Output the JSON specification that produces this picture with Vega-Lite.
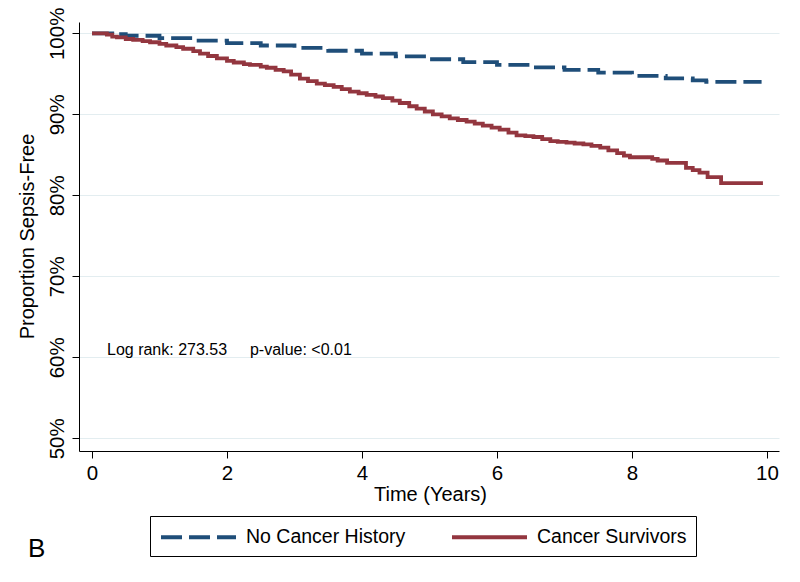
{
  "$schema": "https://vega.github.io/schema/vega-lite/v6.json",
  "width": 700,
  "height": 429,
  "autosize": {"type": "none"},
  "padding": {"left": 79, "top": 22, "right": 21, "bottom": 131},
  "background": "white",
  "config": {
    "view": {"stroke": null},
    "font": "Liberation Sans",
    "axis": {
      "domainColor": "black",
      "domainWidth": 1,
      "tickColor": "black",
      "tickWidth": 1,
      "tickSize": 7,
      "labelColor": "black",
      "titleColor": "black",
      "labelFont": "Liberation Sans",
      "titleFont": "Liberation Sans",
      "labelFontSize": 20.5,
      "titleFontSize": 20,
      "titleFontWeight": "normal",
      "labelFlush": false,
      "labelOverlap": false
    },
    "legend": {
      "symbolType": "M-1,0H6.5",
      "symbolSize": 400,
      "symbolStrokeWidth": 3.8,
      "labelFont": "Liberation Sans",
      "labelFontSize": 19.5,
      "labelColor": "black",
      "labelOffset": 63,
      "labelLimit": 400,
      "columnPadding": 38,
      "gridAlign": "all",
      "padding": 9,
      "strokeColor": "black",
      "strokeWidth": 1,
      "fillColor": "white"
    }
  },
  "datasets": {
    "km": [
      {"group": "No Cancer History", "years": 0, "survival": 1.0},
      {"group": "No Cancer History", "years": 0.3, "survival": 0.999},
      {"group": "No Cancer History", "years": 0.5, "survival": 0.997},
      {"group": "No Cancer History", "years": 1.0, "survival": 0.994},
      {"group": "No Cancer History", "years": 1.5, "survival": 0.991},
      {"group": "No Cancer History", "years": 2.0, "survival": 0.988},
      {"group": "No Cancer History", "years": 2.5, "survival": 0.985},
      {"group": "No Cancer History", "years": 3.0, "survival": 0.982},
      {"group": "No Cancer History", "years": 3.5, "survival": 0.9785},
      {"group": "No Cancer History", "years": 4.0, "survival": 0.975},
      {"group": "No Cancer History", "years": 4.5, "survival": 0.9715},
      {"group": "No Cancer History", "years": 5.0, "survival": 0.968},
      {"group": "No Cancer History", "years": 5.5, "survival": 0.9645},
      {"group": "No Cancer History", "years": 6.0, "survival": 0.961},
      {"group": "No Cancer History", "years": 6.5, "survival": 0.958},
      {"group": "No Cancer History", "years": 7.0, "survival": 0.955},
      {"group": "No Cancer History", "years": 7.5, "survival": 0.9515},
      {"group": "No Cancer History", "years": 8.0, "survival": 0.9475},
      {"group": "No Cancer History", "years": 8.5, "survival": 0.9445},
      {"group": "No Cancer History", "years": 8.9, "survival": 0.942},
      {"group": "No Cancer History", "years": 9.1, "survival": 0.94},
      {"group": "No Cancer History", "years": 9.92, "survival": 0.94},
      {"group": "Cancer Survivors", "years": 0, "survival": 1.0},
      {"group": "Cancer Survivors", "years": 0.22, "survival": 0.9985},
      {"group": "Cancer Survivors", "years": 0.3, "survival": 0.996},
      {"group": "Cancer Survivors", "years": 0.37, "survival": 0.995},
      {"group": "Cancer Survivors", "years": 0.5, "survival": 0.993},
      {"group": "Cancer Survivors", "years": 0.61, "survival": 0.992},
      {"group": "Cancer Survivors", "years": 0.75, "survival": 0.9905},
      {"group": "Cancer Survivors", "years": 0.86, "survival": 0.989},
      {"group": "Cancer Survivors", "years": 1.0, "survival": 0.987},
      {"group": "Cancer Survivors", "years": 1.1, "survival": 0.985},
      {"group": "Cancer Survivors", "years": 1.25, "survival": 0.983},
      {"group": "Cancer Survivors", "years": 1.35, "survival": 0.981},
      {"group": "Cancer Survivors", "years": 1.5, "survival": 0.978},
      {"group": "Cancer Survivors", "years": 1.6, "survival": 0.975},
      {"group": "Cancer Survivors", "years": 1.72, "survival": 0.972},
      {"group": "Cancer Survivors", "years": 1.85, "survival": 0.969},
      {"group": "Cancer Survivors", "years": 2.0, "survival": 0.966},
      {"group": "Cancer Survivors", "years": 2.1, "survival": 0.964},
      {"group": "Cancer Survivors", "years": 2.25, "survival": 0.962},
      {"group": "Cancer Survivors", "years": 2.34, "survival": 0.961},
      {"group": "Cancer Survivors", "years": 2.5, "survival": 0.959},
      {"group": "Cancer Survivors", "years": 2.59, "survival": 0.9575},
      {"group": "Cancer Survivors", "years": 2.72, "survival": 0.955},
      {"group": "Cancer Survivors", "years": 2.84, "survival": 0.953},
      {"group": "Cancer Survivors", "years": 2.95, "survival": 0.949},
      {"group": "Cancer Survivors", "years": 3.08, "survival": 0.944},
      {"group": "Cancer Survivors", "years": 3.2, "survival": 0.941},
      {"group": "Cancer Survivors", "years": 3.33, "survival": 0.938},
      {"group": "Cancer Survivors", "years": 3.45, "survival": 0.936},
      {"group": "Cancer Survivors", "years": 3.58, "survival": 0.934},
      {"group": "Cancer Survivors", "years": 3.7, "survival": 0.931},
      {"group": "Cancer Survivors", "years": 3.82, "survival": 0.928},
      {"group": "Cancer Survivors", "years": 3.95, "survival": 0.926},
      {"group": "Cancer Survivors", "years": 4.07, "survival": 0.924},
      {"group": "Cancer Survivors", "years": 4.2, "survival": 0.922},
      {"group": "Cancer Survivors", "years": 4.31, "survival": 0.92},
      {"group": "Cancer Survivors", "years": 4.45, "survival": 0.917},
      {"group": "Cancer Survivors", "years": 4.56, "survival": 0.914},
      {"group": "Cancer Survivors", "years": 4.7, "survival": 0.91},
      {"group": "Cancer Survivors", "years": 4.81, "survival": 0.907},
      {"group": "Cancer Survivors", "years": 4.93, "survival": 0.9035},
      {"group": "Cancer Survivors", "years": 5.05, "survival": 0.9},
      {"group": "Cancer Survivors", "years": 5.18, "survival": 0.8975},
      {"group": "Cancer Survivors", "years": 5.3, "survival": 0.895},
      {"group": "Cancer Survivors", "years": 5.42, "survival": 0.893},
      {"group": "Cancer Survivors", "years": 5.55, "survival": 0.891},
      {"group": "Cancer Survivors", "years": 5.67, "survival": 0.8885},
      {"group": "Cancer Survivors", "years": 5.79, "survival": 0.886},
      {"group": "Cancer Survivors", "years": 5.92, "survival": 0.8835},
      {"group": "Cancer Survivors", "years": 6.04, "survival": 0.881},
      {"group": "Cancer Survivors", "years": 6.17, "survival": 0.8775},
      {"group": "Cancer Survivors", "years": 6.29, "survival": 0.874},
      {"group": "Cancer Survivors", "years": 6.42, "survival": 0.873},
      {"group": "Cancer Survivors", "years": 6.54, "survival": 0.872},
      {"group": "Cancer Survivors", "years": 6.67, "survival": 0.8695},
      {"group": "Cancer Survivors", "years": 6.79, "survival": 0.867},
      {"group": "Cancer Survivors", "years": 6.9, "survival": 0.866},
      {"group": "Cancer Survivors", "years": 7.03, "survival": 0.865},
      {"group": "Cancer Survivors", "years": 7.15, "survival": 0.864},
      {"group": "Cancer Survivors", "years": 7.28, "survival": 0.863},
      {"group": "Cancer Survivors", "years": 7.4, "survival": 0.861},
      {"group": "Cancer Survivors", "years": 7.53, "survival": 0.859},
      {"group": "Cancer Survivors", "years": 7.65, "survival": 0.8555},
      {"group": "Cancer Survivors", "years": 7.78, "survival": 0.852},
      {"group": "Cancer Survivors", "years": 7.88, "survival": 0.849},
      {"group": "Cancer Survivors", "years": 7.97, "survival": 0.847},
      {"group": "Cancer Survivors", "years": 8.3, "survival": 0.845},
      {"group": "Cancer Survivors", "years": 8.38, "survival": 0.843},
      {"group": "Cancer Survivors", "years": 8.52, "survival": 0.84},
      {"group": "Cancer Survivors", "years": 8.8, "survival": 0.834},
      {"group": "Cancer Survivors", "years": 8.9, "survival": 0.831},
      {"group": "Cancer Survivors", "years": 9.0, "survival": 0.828},
      {"group": "Cancer Survivors", "years": 9.12, "survival": 0.8225},
      {"group": "Cancer Survivors", "years": 9.32, "survival": 0.815},
      {"group": "Cancer Survivors", "years": 9.94, "survival": 0.815}
    ]
  },
  "layer": [
    {
      "data": {"name": "km"},
      "mark": {"type": "line", "interpolate": "step-after", "strokeWidth": 3.8, "strokeCap": "butt"},
      "encoding": {
        "x": {
          "field": "years",
          "type": "quantitative",
          "scale": {"domain": [-0.1926, 10.178], "nice": false, "zero": false},
          "axis": {
            "values": [0, 2, 4, 6, 8, 10],
            "format": "d",
            "title": "Time (Years)",
            "grid": false,
            "labelBaseline": "alphabetic",
            "labelPadding": 21,
            "titleBaseline": "alphabetic",
            "titleAlign": "center",
            "titleX": 351,
            "titleY": 49
          }
        },
        "y": {
          "field": "survival",
          "type": "quantitative",
          "scale": {"domain": [0.4843, 1.014], "nice": false, "zero": false},
          "axis": {
            "values": [0.5, 0.6, 0.7, 0.8, 0.9, 1.0],
            "format": ".0%",
            "title": "Proportion Sepsis-Free",
            "grid": true,
            "gridColor": "#e3edf0",
            "gridWidth": 1,
            "labelAngle": 270,
            "labelAlign": "center",
            "labelBaseline": "alphabetic",
            "labelPadding": 9,
            "titleAngle": 270,
            "titleAlign": "center",
            "titleBaseline": "alphabetic",
            "titleX": -46,
            "titleY": 214
          }
        },
        "color": {
          "field": "group",
          "type": "nominal",
          "scale": {"domain": ["No Cancer History", "Cancer Survivors"], "range": ["#1f4e79", "#93363f"]},
          "legend": {"title": null, "orient": "none", "legendX": 71, "legendY": 494, "direction": "horizontal"}
        },
        "strokeDash": {
          "field": "group",
          "type": "nominal",
          "scale": {"domain": ["No Cancer History", "Cancer Survivors"], "range": [[21, 7], [1, 0]]},
          "legend": {"title": null, "orient": "none", "legendX": 71, "legendY": 494, "direction": "horizontal"}
        }
      }
    },
    {
      "data": {"values": [{"note": "Log rank: 273.53"}]},
      "mark": {"type": "text", "font": "Liberation Sans", "fontSize": 16, "align": "left", "baseline": "alphabetic", "color": "black"},
      "encoding": {"text": {"field": "note"}, "x": {"datum": 0.222}, "y": {"datum": 0.6028}}
    },
    {
      "data": {"values": [{"note": "p-value: <0.01"}]},
      "mark": {"type": "text", "font": "Liberation Sans", "fontSize": 16, "align": "left", "baseline": "alphabetic", "color": "black"},
      "encoding": {"text": {"field": "note"}, "x": {"datum": 2.34}, "y": {"datum": 0.6028}}
    },
    {
      "data": {"values": [{"note": "B"}]},
      "mark": {"type": "text", "font": "Liberation Sans", "fontSize": 26, "align": "left", "baseline": "alphabetic", "color": "black"},
      "encoding": {"text": {"field": "note"}, "x": {"datum": -0.948}, "y": {"datum": 0.3535}}
    }
  ]
}
